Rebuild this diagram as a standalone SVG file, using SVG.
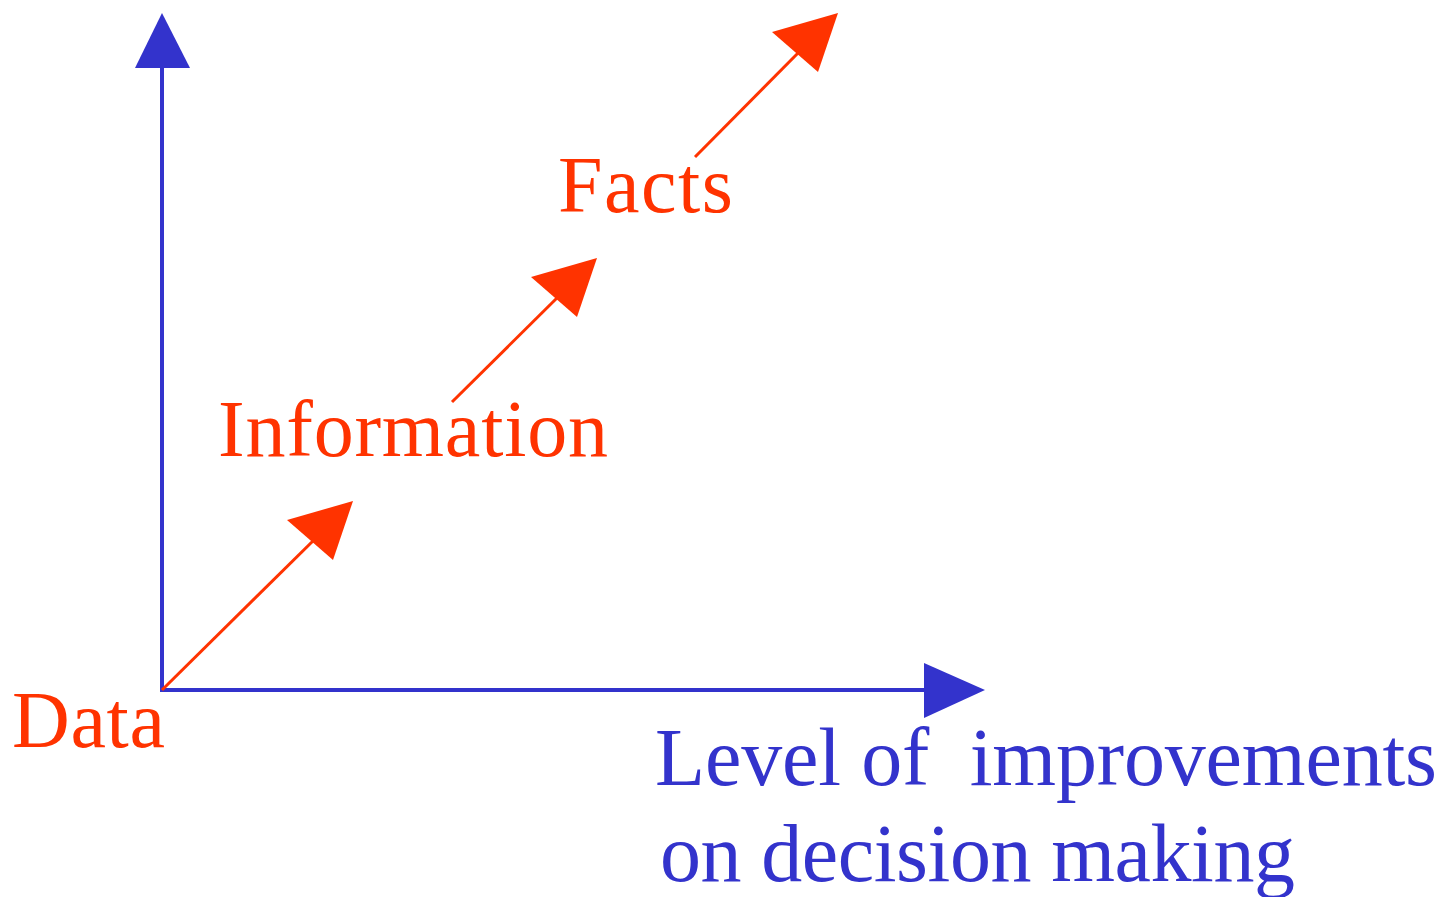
<svg xmlns="http://www.w3.org/2000/svg" width="1449" height="897" viewBox="0 0 1449 897">
<style>
.ax{stroke:#3333CC;stroke-width:4;fill:none}
.ah{fill:#3333CC}
.rl{stroke:#FF3300;stroke-width:3;fill:none}
.rh{fill:#FF3300}
.rt{font-family:"Liberation Serif","Times New Roman",serif;font-size:80px;fill:#FF3300}
.bt{font-family:"Liberation Serif","Times New Roman",serif;font-size:82px;fill:#3333CC;white-space:pre}
</style>
<rect width="1449" height="897" fill="#ffffff"/>
<g id="connectors">
<line class="ax" x1="162" y1="692" x2="162" y2="62"/>
<polygon class="ah" points="162,13 190,68 135,68"/>
<line class="ax" x1="160" y1="690" x2="930" y2="690"/>
<polygon class="ah" points="985,690 924,663 924,718"/>
<line class="rl" x1="162" y1="690" x2="318" y2="536"/>
<polygon class="rh" points="353,501 287,520 333,560"/>
<line class="rl" x1="452" y1="402" x2="562" y2="293"/>
<polygon class="rh" points="597,258 531,277 577,317"/>
<line class="rl" x1="695" y1="157" x2="803" y2="48"/>
<polygon class="rh" points="838,13 772,32 818,72"/>
</g>
<g id="data"><text class="rt" x="12" y="747" font-size="82" textLength="153" lengthAdjust="spacing">Data</text></g>
<g id="information"><text class="rt" x="218" y="456" textLength="390" lengthAdjust="spacing">Information</text></g>
<g id="facts"><text class="rt" x="558" y="212" textLength="175" lengthAdjust="spacing">Facts</text></g>
<g id="axis-label">
<text class="bt" x="655" y="785" textLength="782" lengthAdjust="spacing" xml:space="preserve">Level of  improvements</text>
<text class="bt" x="660" y="881" textLength="635" lengthAdjust="spacing">on decision making</text>
</g>
</svg>
